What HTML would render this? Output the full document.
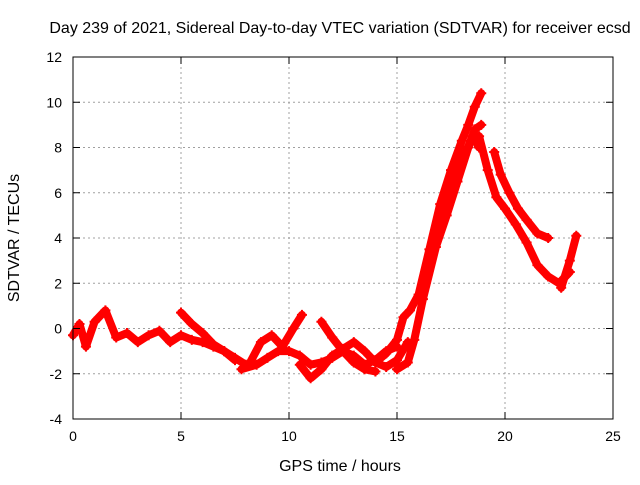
<!DOCTYPE html>
<html><head><meta charset="utf-8"><style>
body{margin:0;background:#fff}
svg text{font-family:"Liberation Sans",sans-serif;font-size:14px;fill:#000}
svg text.big{font-size:16px}
</style></head><body>
<svg id="chart" width="640" height="480">
<text class="big" x="340" y="33" text-anchor="middle">Day 239 of 2021, Sidereal Day-to-day VTEC variation (SDTVAR) for receiver ecsd</text>
<text class="big" x="340" y="471" text-anchor="middle">GPS time / hours</text>
<text class="big" transform="translate(19,238) rotate(-90)" text-anchor="middle">SDTVAR / TECUs</text>
<g id="grid"></g><g id="marks"></g><g id="axes"></g>
</svg>
<script>
const xTicks=[0,5,10,15,20,25];
const yTicks=[-4,-2,0,2,4,6,8,10,12];
const arcHours=[
[0,0.3,0.6,1,1.5,2,2.5,3,3.5,4,4.5,5,5.5,6,6.5,7,7.5,8],
[5,5.5,6,6.5,7,7.5],
[7.8,8.5,9,9.5,10,10.5,11,11.5,12,12.5,13,13.5,14,14.5,15],
[8.2,8.7,9.2,9.7,10.2,10.6],
[10.5,11,11.5,12,12.5,13,13.5,14,14.5,15,15.5],
[11.5,12,12.5,13,13.5,14],
[14,14.5,15,15.3,15.6,16,16.5,17,17.5,18,18.3,18.6,18.9],
[15,15.5,15.8,16.2,16.8,17.3,17.8,18.3,18.6,18.9],
[17,17.5,18,18.5,18.8],
[18.8,19.2,19.6,20,20.5,21,21.5,22,22.5,23],
[19.5,19.8,20.2,20.6,21,21.5,22],
[22.6,23,23.3]
];
const arcValues=[
[-0.3,0.2,-0.8,0.3,0.8,-0.4,-0.2,-0.6,-0.3,-0.1,-0.6,-0.3,-0.5,-0.6,-0.8,-1.0,-1.3,-1.6],
[0.7,0.2,-0.2,-0.7,-1.0,-1.4],
[-1.8,-1.6,-1.3,-1.0,-1.0,-1.2,-1.6,-1.5,-1.3,-1.0,-1.2,-1.6,-1.4,-1.0,-0.8],
[-1.5,-0.6,-0.3,-0.8,0.0,0.6],
[-1.6,-2.2,-1.8,-1.2,-0.9,-0.6,-1.0,-1.5,-1.7,-1.4,-0.6],
[0.3,-0.4,-1.0,-1.5,-1.8,-1.9],
[-1.5,-1.1,-0.5,0.5,0.8,1.5,3.5,5.5,7,8.3,9.0,9.8,10.4],
[-1.8,-1.5,-0.5,1.3,3.6,5.0,6.5,8.0,8.8,9.0],
[4.5,6.0,7.4,8.5,8.0],
[8.5,7.0,5.8,5.3,4.6,3.8,2.8,2.3,2.0,2.5],
[7.8,6.8,6.0,5.3,4.8,4.2,4.0],
[1.8,3.0,4.1]
];
const X=h=>73+h*21.6, Y=v=>57+(12-v)*22.625;
const NS="http://www.w3.org/2000/svg";
const grid=document.getElementById('grid'),marks=document.getElementById('marks'),axes=document.getElementById('axes');
function mk(tag,attrs,parent){const e=document.createElementNS(NS,tag);for(const k in attrs)e.setAttribute(k,attrs[k]);parent.appendChild(e);return e;}
xTicks.forEach(t=>{
 if(t>0&&t<25){const g=mk('line',{x1:X(t),x2:X(t),y1:57,y2:419,stroke:'#a0a0a0','stroke-dasharray':'2,3'},grid);
 
 }
 const tx=mk('text',{x:X(t),y:441,'text-anchor':'middle'},axes);tx.textContent=t;
 
 
 mk('line',{x1:X(t),x2:X(t),y1:419,y2:412,stroke:'#000'},axes);
 mk('line',{x1:X(t),x2:X(t),y1:57,y2:64,stroke:'#000'},axes);
});
yTicks.forEach(t=>{
 if(t>-4&&t<12){const g=mk('line',{x1:73,x2:613,y1:Y(t),y2:Y(t),stroke:'#a0a0a0','stroke-dasharray':'2,3'},grid);
 
 }
 const tx=mk('text',{x:62,y:Y(t)+5,'text-anchor':'end'},axes);tx.textContent=t;
 
 
 mk('line',{x1:73,x2:80,y1:Y(t),y2:Y(t),stroke:'#000'},axes);
 mk('line',{x1:606,x2:613,y1:Y(t),y2:Y(t),stroke:'#000'},axes);
});
const fr=mk('rect',{x:73,y:57,width:540,height:362,fill:'none',stroke:'#000'},axes);


arcHours.forEach((hs,i)=>{
 const vs=arcValues[i];
 const pts=hs.map((h,j)=>X(h)+','+Y(vs[j])).join(' ');
 const pl=mk('polyline',{points:pts,fill:'none',stroke:'#ff0000','stroke-width':8,'stroke-linejoin':'round','stroke-linecap':'round'},marks);
 
 
 hs.forEach((h,j)=>{
  const p=mk('path',{d:`M${X(h)-5},${Y(vs[j])}h10M${X(h)},${Y(vs[j])-5}v10`,stroke:'#ff0000','stroke-width':2},marks);
  
  
 });
});
</script>
</body></html>
